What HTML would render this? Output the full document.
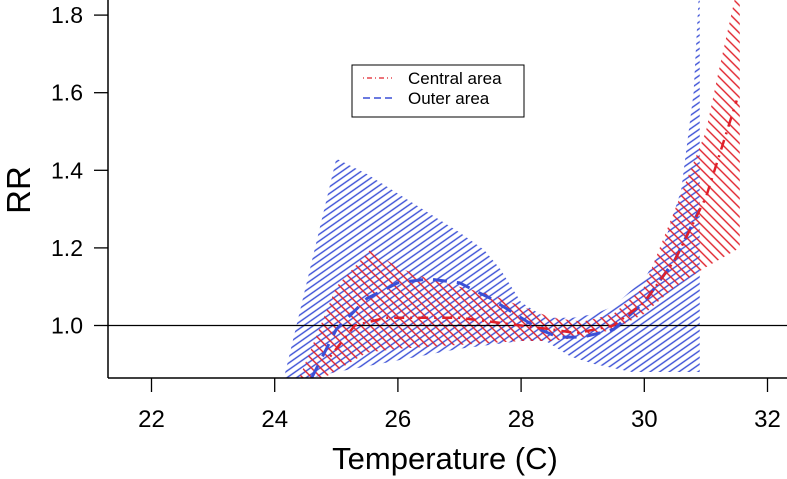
<!DOCTYPE html>
<html><head><meta charset="utf-8"><style>
body{margin:0;background:#fff}
svg{display:block;font-family:"Liberation Sans",sans-serif}
</style></head><body>
<svg id="chart" width="787" height="479" viewBox="0 0 787 479">
<defs>
<pattern id="hatchBlue" patternUnits="userSpaceOnUse" width="5.5" height="5.5" patternTransform="rotate(-35)">
<line x1="0" y1="1" x2="5.5" y2="1" stroke="#3a4fd6" stroke-width="1.4"/>
</pattern>
<pattern id="hatchRed" patternUnits="userSpaceOnUse" width="6.5" height="6.5" patternTransform="rotate(45)">
<line x1="0" y1="1" x2="6.5" y2="1" stroke="#e0202a" stroke-width="1.4"/>
</pattern>
<clipPath id="plotClip"><rect x="108" y="0" width="679" height="378"/></clipPath>
</defs>
<g id="plot" clip-path="url(#plotClip)"></g>
<g id="axes"></g>
<rect x="352" y="65" width="172" height="52" fill="#fff" stroke="#000" stroke-width="1"/>
<line x1="363" y1="78" x2="392" y2="78" stroke="#e0202a" stroke-width="1.3" stroke-dasharray="1,3,5,3"/>
<line x1="363" y1="98" x2="392" y2="98" stroke="#3a4fd6" stroke-width="1.5" stroke-dasharray="7,4"/>
<text x="408" y="84" font-size="17">Central area</text>
<text x="408" y="104" font-size="17">Outer area</text>
<text x="0" y="0" font-size="33" text-anchor="middle" transform="translate(30,190) rotate(-90)">RR</text>
<text x="445" y="469" font-size="31" text-anchor="middle">Temperature (C)</text>
</svg>
<script>
const xTicks=[22,24,26,28,30,32];
const yTicks=[1.0,1.2,1.4,1.6,1.8];
const yTickLabels=["1.0","1.2","1.4","1.6","1.8"];
const outerX=[24.15,25.0,25.5,26.0,26.5,27.0,27.4,27.66,28.0,28.4,28.84,29.2,29.5,30.0,30.3,30.6,30.8,30.9];
const outerUpper=[0.865,1.43,1.39,1.34,1.29,1.24,1.195,1.146,1.06,1.02,1.02,1.03,1.05,1.12,1.2,1.35,1.6,1.9];
const outerLowX=[24.6,25.0,26.0,27.0,28.0,28.4,28.8,29.2,29.8,30.5,30.9];
const outerLower=[0.865,0.88,0.91,0.94,0.96,0.96,0.92,0.9,0.88,0.88,0.88];
const centralX=[24.4,25.0,25.55,26.0,26.5,27.0,27.5,28.0,28.5,29.0,29.5,30.0,30.5,31.0,31.2,31.55];
const centralUpper=[0.865,1.1,1.195,1.15,1.12,1.1,1.08,1.05,1.02,1.01,1.03,1.1,1.3,1.5,1.65,1.9];
const centralLowX=[24.8,25.5,26.0,27.0,28.0,28.5,29.0,29.5,30.0,30.5,31.0,31.55];
const centralLower=[0.865,0.93,0.94,0.95,0.96,0.96,0.97,0.99,1.03,1.1,1.15,1.2];
const outerLineX=[24.6,25.0,25.5,26.0,26.5,27.0,27.5,28.0,28.3,28.6,29.0,29.5,30.0,30.5,30.9];
const outerLine=[0.865,0.99,1.07,1.11,1.12,1.11,1.07,1.02,0.99,0.97,0.97,0.99,1.06,1.17,1.3];
const centralLineX=[24.9,25.3,25.8,26.5,27.0,27.5,28.0,28.5,28.9,29.5,30.0,30.5,31.0,31.5];
const centralLine=[0.92,1.0,1.02,1.02,1.02,1.01,1.0,0.99,0.98,1.0,1.06,1.17,1.33,1.58];

const NS="http://www.w3.org/2000/svg";
const sx=v=>151.5+(v-22)*61.6;
const sy=v=>325.5-(v-1.0)*388;
const plot=document.getElementById('plot'),axes=document.getElementById('axes');
function mk(tag,attrs,parent){const e=document.createElementNS(NS,tag);for(const k in attrs)e.setAttribute(k,attrs[k]);parent.appendChild(e);return e;}
function band(xu,yu,xl,yl){let p=xu.map((x,i)=>sx(x)+','+sy(yu[i]));for(let i=xl.length-1;i>=0;i--)p.push(sx(xl[i])+','+sy(yl[i]));return p.join(' ');}
function line(xs,ys){return xs.map((x,i)=>sx(x)+','+sy(ys[i])).join(' ');}

let b=mk('polygon',{points:band(outerX,outerUpper,outerLowX,outerLower),fill:'url(#hatchBlue)'},plot);


let r=mk('polygon',{points:band(centralX,centralUpper,centralLowX,centralLower),fill:'url(#hatchRed)'},plot);


let h=mk('line',{x1:108,x2:787,y1:sy(1),y2:sy(1),stroke:'#000','stroke-width':1.2},plot);


let bl=mk('polyline',{points:line(outerLineX,outerLine),fill:'none',stroke:'#3a4fd6','stroke-width':3,'stroke-dasharray':'14,10'},plot);


let rl=mk('polyline',{points:line(centralLineX,centralLine),fill:'none',stroke:'#e0202a','stroke-width':2.5,'stroke-dasharray':'2,6,10,6'},plot);



let ya=mk('line',{x1:108,x2:108,y1:0,y2:378,stroke:'#000','stroke-width':1.5},axes);


let xa=mk('line',{x1:108,x2:787,y1:378,y2:378,stroke:'#000','stroke-width':1.5},axes);


xTicks.forEach(v=>{
 let t=mk('line',{x1:sx(v),x2:sx(v),y1:378,y2:392,stroke:'#000','stroke-width':1.3},axes);
 
 
 let l=mk('text',{x:sx(v),y:427,'font-size':24,'text-anchor':'middle'},axes);
 l.textContent=v;
 
 
});
yTicks.forEach((v,i)=>{
 let t=mk('line',{x1:94,x2:108,y1:sy(v),y2:sy(v),stroke:'#000','stroke-width':1.3},axes);
 
 
 let l=mk('text',{x:83,y:sy(v)+8,'font-size':23,'text-anchor':'end'},axes);
 l.textContent=yTickLabels[i];
 
 
});
</script>
</body></html>
